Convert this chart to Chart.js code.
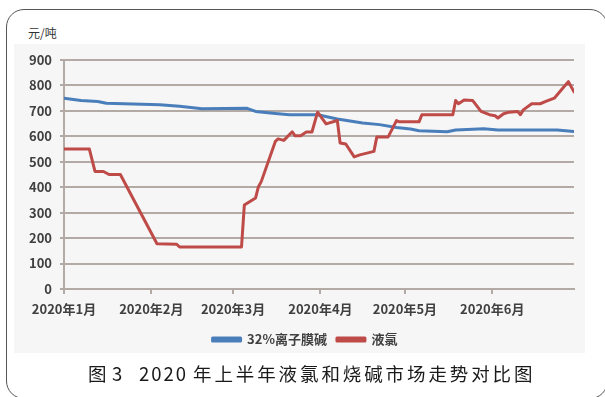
<!DOCTYPE html>
<html><head><meta charset="utf-8">
<script src="https://cdn.jsdelivr.net/npm/chart.js@4"></script>
<style>
body{margin:0;background:#fff;}
#wrap{position:relative;width:605px;height:397px;overflow:hidden;font-family:'Noto Sans CJK SC','Noto Sans',sans-serif;}
#frame{position:absolute;left:6px;top:9px;width:602px;height:390px;box-sizing:border-box;border:1px solid #555;border-radius:18px;}
#bg{position:absolute;left:14px;top:44px;width:571px;height:309px;background:#f6f6f6;}
#c{position:absolute;left:0;top:0;}
#unit{position:absolute;left:28px;top:27px;font-size:12px;line-height:12px;color:#333;}
#cap span{position:absolute;top:364px;font-size:18.5px;line-height:18px;color:#1a1a1a;white-space:nowrap;}
</style></head>
<body><div id="wrap">
<div id="frame"></div><div id="bg"></div>
<div id="unit">元/吨</div>
<canvas id="c" width="605" height="397"></canvas>
<div id="cap"><span style="left:88px">图</span> <span style="left:112px">3</span> <span style="left:139px;letter-spacing:2px">2020</span> <span style="left:193px;letter-spacing:2.9px">年上半年液氯和烧碱市场走势对比图</span></div>
</div>
<script>
// ---- data ----
const seriesNames = ['32%离子膜碱', '液氯'];
const xTickLabels = ['2020年1月','2020年2月','2020年3月','2020年4月','2020年5月','2020年6月'];
const monthStartDates = ['01-01','02-01','03-01','04-01','05-01','06-01'];
const xEndDate = '06-30';
const yTickMin = 0, yTickMax = 900, yTickStep = 100;

const causticDates = ['01-01','01-07','01-13','01-16','02-04','02-11','02-19','03-06','03-09','03-16','03-21','03-31','04-07','04-16','04-22','04-28','05-03','05-06','05-16','05-19','05-29','06-03','06-24','06-30'];
const causticValues = [750,741,737,730,724,718,708,710,698,690,685,685,668,652,646,635,629,622,618,625,630,625,625,619];

const chlorineDates = ['01-01','01-10','01-12','01-15','01-17','01-21','02-03','02-10','02-11','03-04','03-05','03-09','03-10','03-11','03-16','03-17','03-19','03-22','03-23','03-25','03-27','03-29','03-31','04-03','04-07','04-08','04-10','04-13','04-15','04-20','04-21','04-25','04-28','04-29','05-06','05-07','05-18','05-19','05-20','05-22','05-25','05-28','05-31','06-02','06-03','06-05','06-07','06-10','06-11','06-12','06-15','06-18','06-20','06-23','06-26','06-28','06-30'];
const chlorineValues = [550,550,462,462,450,450,178,176,165,165,330,358,402,422,580,590,584,618,602,602,617,617,695,649,662,574,570,519,527,541,597,597,662,657,657,685,685,741,728,743,741,698,685,681,672,689,695,698,685,704,728,728,737,750,789,815,775];

// ---- helpers ----
function dayOf(md){const [m,d]=md.split('-').map(Number);return (Date.UTC(2020,m-1,d)-Date.UTC(2020,0,1))/86400000;}
const monthStarts = monthStartDates.map(dayOf);
const toPoints = (dates, vals) => dates.map((d,i)=>({x:dayOf(d), y:vals[i]}));

const tickFont = {family:"'Noto Sans CJK SC','Noto Sans',sans-serif", size:13, weight:'bold'};
const gridColor = '#b3aaa5';
const textColor = '#404040';

const legendShift = {
  id:'legendShift',
  afterLayout(chart){ if (chart.legend) { chart.legend.left += 22; } }
};

new Chart(document.getElementById('c'), {
  type:'line',
  data:{datasets:[
    {label:seriesNames[0], data:toPoints(causticDates,causticValues), borderColor:'#4a7ebb', backgroundColor:'#4a7ebb', borderWidth:3, pointRadius:0, tension:0, borderJoinStyle:'round', borderCapStyle:'round', order:1},
    {label:seriesNames[1], data:toPoints(chlorineDates,chlorineValues), borderColor:'#be4b48', backgroundColor:'#be4b48', borderWidth:3, pointRadius:0, tension:0, borderJoinStyle:'round', borderCapStyle:'round', order:0}
  ]},
  plugins:[legendShift],
  options:{
    responsive:false, animation:false, devicePixelRatio:1,
    layout:{padding:{left:14,right:31,top:60,bottom:41}},
    plugins:{
      legend:{position:'bottom', labels:{boxWidth:28, boxHeight:3, padding:10, color:textColor, font:{family:tickFont.family,size:13,weight:'bold'}, sort:(a,b)=>a.datasetIndex-b.datasetIndex}},
      tooltip:{enabled:false}
    },
    scales:{
      x:{type:'linear', min:0, max:dayOf(xEndDate),
         afterBuildTicks:s=>{s.ticks = monthStarts.map(v=>({value:v}));},
         afterFit:s=>{s.height=34;},
         ticks:{callback:(v)=>xTickLabels[monthStarts.indexOf(v)], autoSkip:false, maxRotation:0, padding:7, color:textColor, font:tickFont},
         grid:{drawOnChartArea:false, tickLength:5, color:gridColor, lineWidth:2},
         border:{color:gridColor, width:2}},
      y:{min:yTickMin, max:yTickMax,
         ticks:{stepSize:yTickStep, padding:8, color:textColor, font:tickFont},
         afterFit:s=>{s.width=50;},
         grid:{color:gridColor, lineWidth:2, tickLength:4},
         border:{color:gridColor, width:2}}
    }
  }
});
</script>
</body></html>
